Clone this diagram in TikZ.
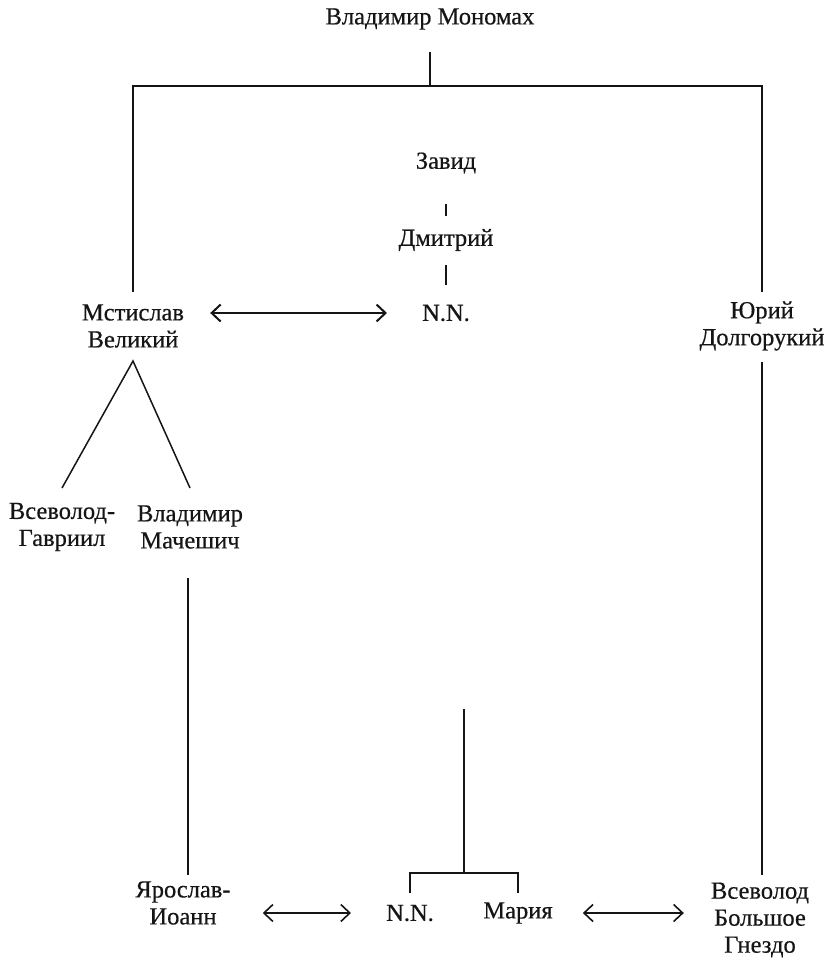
\documentclass[tikz,border=0pt]{standalone}
\usepackage{fontspec}
\setmainfont{Liberation Serif}
\newfontfamily\gtfont{Liberation Serif}[FakeBold=0.5]
\usetikzlibrary{arrows.meta,positioning}
\definecolor{gtInk}{HTML}{151515}
\tikzset{
  gt canvas/.style={fill=white},
  gt name/.style={
    text=gtInk,
    font=\gtfont\fontsize{24.5}{27}\selectfont,
    align=center,
    inner sep=0pt
  },
  gt line/.style={draw=gtInk, line width=1.5pt},
  gt bar/.style={draw=gtInk, line width=2pt},
  gt marriage/.style={
    draw=gtInk,
    line width=2pt,
    {Straight Barb[length=9pt,width=17pt]}-{Straight Barb[length=9pt,width=17pt]}
  }
}
\begin{document}
\begin{tikzpicture}[x=1pt,y=-1pt]
  \path[gt canvas] (0,0) rectangle (833,967);
  \useasboundingbox (0,0) rectangle (833,967);

  \node[gt name] (vlad) at (430,19) {Владимир Мономах};
  \node[gt name] (zavid) at (446,163) {Завид};
  \node[gt name] (dmitry) at (446,240) {Дмитрий};
  \node[gt name] (nnTop) at (446,313) {N.N.};
  \node[gt name] (mstislav) at (133,326) {Мстислав\\Великий};
  \node[gt name] (yury) at (762,326) {Юрий\\Долгорукий};
  \node[gt name] (vsevGavr) at (62,527) {Всеволод-\\Гавриил};
  \node[gt name] (vladMach) at (190,527) {Владимир\\Мачешич};
  \node[gt name] (yaroslav) at (183,903) {Ярослав-\\Иоанн};
  \node[gt name] (nnLow) at (410,913) {N.N.};
  \node[gt name] (maria) at (518,913) {Мария};
  \node[gt name] (vsevBig) at (760,920) {Всеволод\\Большое\\Гнездо};
  \coordinate (mariaParent) at (464,709);

  % sons of Vladimir
  \draw[gt line] (vlad |- 0,52) -- (vlad |- 0,86);
  \draw[gt bar] (mstislav |- 0,292) -- (mstislav |- 0,86) -- (yury |- 0,86) -- (yury |- 0,292);

  \draw[gt line] (zavid |- 0,204) -- (zavid |- 0,216);
  \draw[gt line] (dmitry |- 0,265) -- (dmitry |- 0,285);
  \draw[gt marriage, shorten <=26pt, shorten >=35pt] (mstislav.north east |- nnTop) -- (nnTop.west);

  \draw[gt line] (vsevGavr |- 0,488) -- (mstislav |- 0,361) -- (vladMach |- 0,488);
  \draw[gt line] ([xshift=-2pt]vladMach |- 0,578) -- ([xshift=-2pt]vladMach |- 0,875);
  \draw[gt line] (yury |- 0,362) -- (yury |- 0,875);

  % daughters
  \draw[gt line] (mariaParent) -- (mariaParent |- 0,873);
  \draw[gt line] (nnLow |- 0,893) -- (nnLow |- 0,873) -- (maria |- 0,873) -- (maria |- 0,893);

  \draw[gt marriage, line width=1.6pt, shorten <=32pt, shorten >=35pt] (yaroslav.east |- nnLow) -- (nnLow.west);
  \draw[gt marriage, line width=1.6pt, shorten <=30pt, shorten >=27pt] (maria.east) -- (vsevBig.west |- maria);
\end{tikzpicture}
\end{document}
